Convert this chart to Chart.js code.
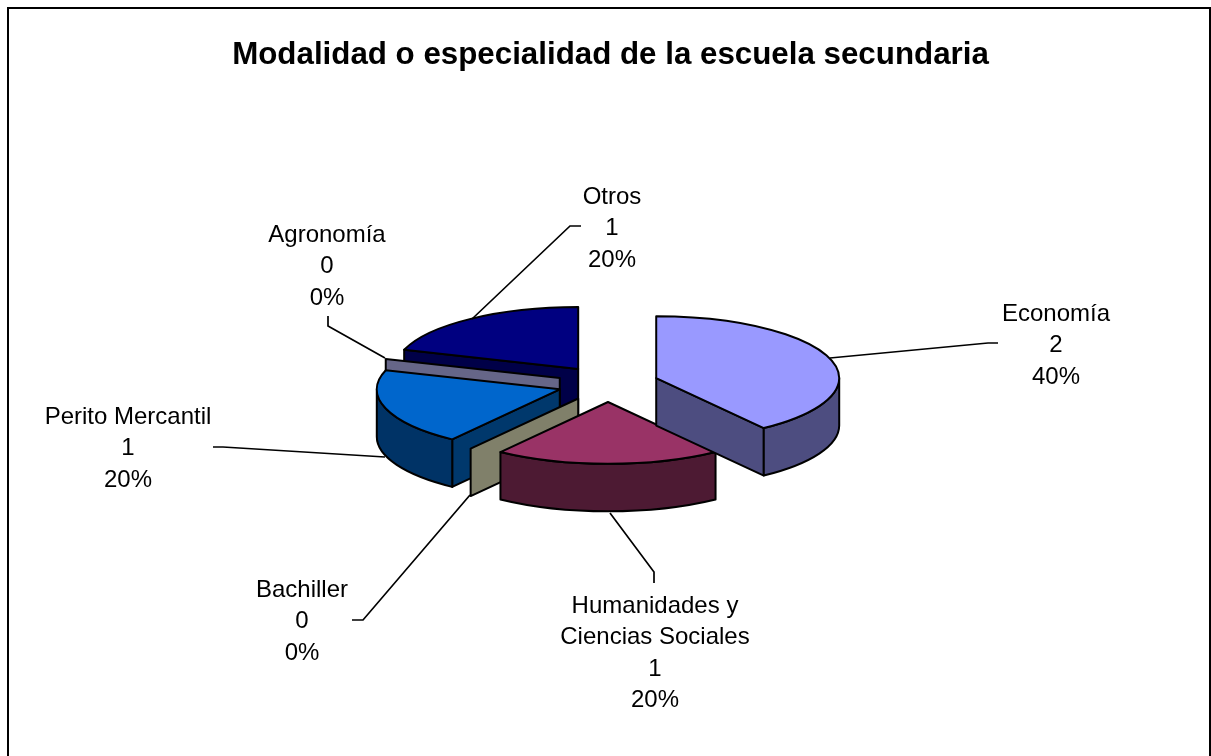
<!DOCTYPE html>
<html><head><meta charset="utf-8">
<script src="https://cdn.jsdelivr.net/npm/chart.js@4/dist/chart.umd.min.js"></script>
<style>html,body{margin:0;padding:0;background:#fff}canvas{display:block}</style>
</head><body>
<canvas id="c" width="1211" height="756"></canvas>
<script>
const categories = ['Economía','Humanidades y Ciencias Sociales','Bachiller','Perito Mercantil','Agronomía','Otros'];
const values = [2,1,0,1,0,1];
const percents = ['40%','20%','0%','20%','0%','20%'];
const topColors = ['#9999FF','#993366','#80806A','#0066CC','#666688','#000080'];
const arcSideColors = ['#4D4D80','#4D1A33','#40403A','#003366','#333344','#000040'];
const faceColors = ['#4D4D80','#4D1A33','#80806A','#00386C','#666688','#000048'];
const labelLines = [['Economía'],['Humanidades y','Ciencias Sociales'],['Bachiller'],['Perito Mercantil'],['Agronomía'],['Otros']];
const titleText = 'Modalidad o especialidad de la escuela secundaria';

const VIEW = {cx:608, cy:383.7, squash:0.338, depth:47.5, explodeX:50.7, explodeY:18.3};
const LABEL_POS = [{x:1056,y:314},{x:655,y:606},{x:302,y:590},{x:128,y:417},{x:327,y:235},{x:612,y:197}];
const LEADERS = [
 [[830,358],[988,343],[998,343]],
 [[610,513],[654,572],[654,583]],
 [[470,495],[363,620],[352,620]],
 [[385,457],[223,447],[213,447]],
 [[385,358],[328,326],[328,316]],
 [[472,319],[570,226],[581,226]]
];
const LABEL_FONT = '24px "Liberation Sans", Arial, sans-serif';
const LINE_H = 31.5;
const DRAW_ORDER = [5,4,3,2,1,0];

const pie3d = {
  id:'pie3d',
  beforeDatasetDraw(chart,args){
    const ctx = chart.ctx, arcs = chart.getDatasetMeta(0).data, V = VIEW;
    ctx.save();
    ctx.lineJoin='round';
    ctx.strokeStyle='#000';
    ctx.lineWidth=2;
    DRAW_ORDER.forEach(i=>{
      const arc = arcs[i], R = arc.outerRadius, Ry = R*V.squash;
      const a0 = arc.startAngle, a1 = arc.endAngle;
      const mid = (a0+a1)/2;
      const cx = V.cx + V.explodeX*Math.cos(mid);
      const cy = V.cy + V.explodeY*Math.sin(mid);
      const pt = t=>[cx+R*Math.cos(t), cy+Ry*Math.sin(t)];
      const shape = (fn,fill)=>{ctx.beginPath();fn();ctx.closePath();ctx.fillStyle=fill;ctx.fill();ctx.stroke();};
      const face = (t,fill)=>{
        const p = pt(t);
        shape(()=>{ctx.moveTo(cx,cy);ctx.lineTo(p[0],p[1]);ctx.lineTo(p[0],p[1]+V.depth);ctx.lineTo(cx,cy+V.depth);},fill);
      };
      if(a1-a0 < 1e-6){ face(a0,faceColors[i]); return; }
      if(-Math.cos(a0) > 1e-6) face(a0,faceColors[i]);
      if(Math.cos(a1) > 1e-6) face(a1,faceColors[i]);
      // curved outer wall: front-facing part only
      [[0,Math.PI],[2*Math.PI,3*Math.PI]].forEach(([lo,hi])=>{
        const s=Math.max(a0,lo), e=Math.min(a1,hi);
        if(e<=s) return;
        shape(()=>{ctx.ellipse(cx,cy,R,Ry,0,s,e);ctx.ellipse(cx,cy+V.depth,R,Ry,0,e,s,true);},arcSideColors[i]);
      });
      // top face: the library's own arc element, flattened
      ctx.save();
      ctx.translate(cx,cy);ctx.scale(1,V.squash);ctx.translate(-arc.x,-arc.y);
      arc.draw(ctx);
      ctx.restore();
      ctx.beginPath();
      ctx.moveTo(cx,cy);
      ctx.ellipse(cx,cy,R,Ry,0,a0,a1);
      ctx.closePath();
      ctx.stroke();
    });
    ctx.restore();
    return false;
  },
  afterDraw(chart){
    const ctx = chart.ctx;
    ctx.save();
    // chart frame
    ctx.strokeStyle='#000';ctx.lineWidth=2;
    ctx.beginPath();ctx.moveTo(8,756);ctx.lineTo(8,8);ctx.lineTo(1210,8);ctx.lineTo(1210,756);ctx.stroke();
    // leaders
    ctx.lineWidth=1.7;
    LEADERS.forEach(l=>{ctx.beginPath();l.forEach((p,j)=>j?ctx.lineTo(p[0],p[1]):ctx.moveTo(p[0],p[1]));ctx.stroke();});
    // labels
    ctx.fillStyle='#000';ctx.font=LABEL_FONT;ctx.textAlign='center';ctx.textBaseline='middle';
    categories.forEach((c,i)=>{
      const lines=[...labelLines[i],String(values[i]),percents[i]];
      lines.forEach((t,j)=>ctx.fillText(t,LABEL_POS[i].x,LABEL_POS[i].y+j*LINE_H));
    });
    ctx.restore();
  }
};

new Chart(document.getElementById('c'),{
  type:'pie',
  data:{labels:categories,datasets:[{data:values,backgroundColor:topColors,borderWidth:0,hoverOffset:0}]},
  options:{
    responsive:false,animation:false,
    layout:{padding:{left:10,right:0,top:38,bottom:189.3}},
    plugins:{
      legend:{display:false},tooltip:{enabled:false},
      title:{display:true,text:titleText,color:'#000',align:'center',
        font:{family:'"Liberation Sans", Arial, sans-serif',size:31.3,weight:'bold',lineHeight:1.1},
        padding:{top:0,bottom:128.3}}
    }
  },
  plugins:[pie3d]
});
</script>
</body></html>
